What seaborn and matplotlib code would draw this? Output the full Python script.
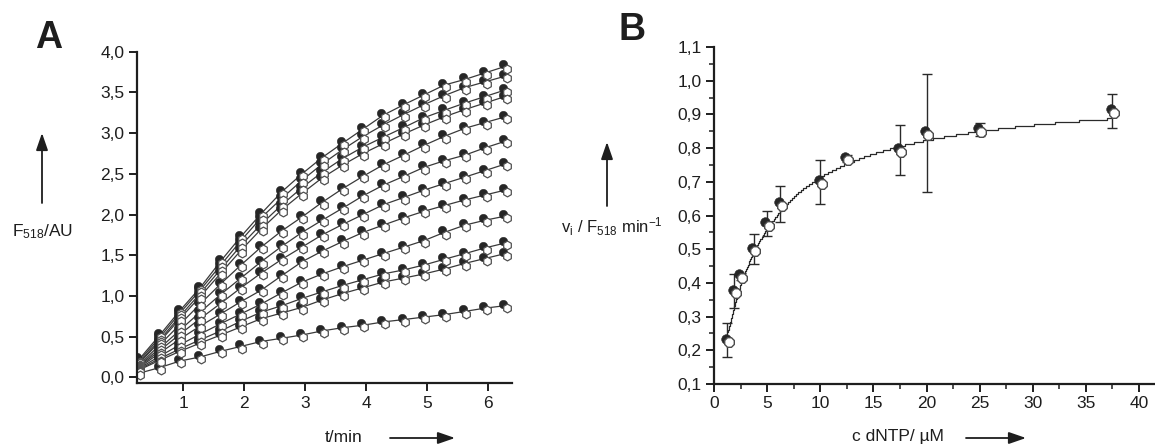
import numpy as np
import pandas as pd
import matplotlib
matplotlib.use("Agg")
import matplotlib.pyplot as plt
import matplotlib.transforms as mtransforms
from matplotlib.patches import FancyArrowPatch
from matplotlib.ticker import MultipleLocator, FuncFormatter
import seaborn as sns

# ---------------- Panel A data: fluorescence time courses ----------------
time_min = [0.28, 0.62, 0.95, 1.28, 1.62, 1.95, 2.28, 2.62, 2.95, 3.28,
            3.62, 3.95, 4.28, 4.62, 4.95, 5.28, 5.62, 5.95, 6.28]
curve_01 = [0.22, 0.52, 0.82, 1.10, 1.43, 1.73, 2.01, 2.28, 2.50, 2.70, 2.88, 3.05, 3.22, 3.35, 3.47, 3.59, 3.66, 3.74, 3.82]
curve_02 = [0.20, 0.49, 0.79, 1.07, 1.38, 1.68, 1.96, 2.20, 2.42, 2.62, 2.80, 2.96, 3.10, 3.23, 3.35, 3.46, 3.56, 3.63, 3.70]
curve_03 = [0.18, 0.46, 0.75, 1.03, 1.33, 1.62, 1.88, 2.12, 2.33, 2.52, 2.69, 2.83, 2.95, 3.07, 3.19, 3.28, 3.37, 3.45, 3.53]
curve_04 = [0.17, 0.44, 0.72, 0.99, 1.28, 1.56, 1.82, 2.06, 2.26, 2.45, 2.61, 2.75, 2.87, 2.99, 3.10, 3.20, 3.29, 3.37, 3.45]
curve_05 = [0.15, 0.40, 0.65, 0.90, 1.15, 1.38, 1.60, 1.80, 1.97, 2.15, 2.32, 2.47, 2.61, 2.73, 2.85, 2.96, 3.06, 3.13, 3.20]
curve_06 = [0.14, 0.36, 0.58, 0.80, 1.02, 1.22, 1.42, 1.61, 1.78, 1.93, 2.08, 2.23, 2.36, 2.47, 2.58, 2.66, 2.73, 2.82, 2.90]
curve_07 = [0.13, 0.33, 0.53, 0.72, 0.91, 1.10, 1.28, 1.45, 1.60, 1.75, 1.88, 2.00, 2.12, 2.21, 2.30, 2.38, 2.46, 2.54, 2.62]
curve_08 = [0.12, 0.30, 0.47, 0.63, 0.78, 0.93, 1.07, 1.25, 1.42, 1.55, 1.67, 1.78, 1.87, 1.96, 2.04, 2.11, 2.18, 2.24, 2.30]
curve_09 = [0.11, 0.26, 0.40, 0.53, 0.66, 0.78, 0.90, 1.04, 1.17, 1.27, 1.36, 1.44, 1.52, 1.60, 1.68, 1.78, 1.87, 1.93, 1.98]
curve_10 = [0.10, 0.23, 0.35, 0.46, 0.57, 0.69, 0.80, 0.88, 0.97, 1.05, 1.13, 1.20, 1.27, 1.32, 1.38, 1.45, 1.52, 1.59, 1.65]
curve_11 = [0.09, 0.21, 0.32, 0.42, 0.52, 0.62, 0.72, 0.79, 0.86, 0.95, 1.03, 1.10, 1.17, 1.22, 1.27, 1.33, 1.40, 1.46, 1.52]
curve_12 = [0.05, 0.12, 0.20, 0.25, 0.32, 0.38, 0.44, 0.48, 0.52, 0.57, 0.61, 0.64, 0.68, 0.71, 0.74, 0.77, 0.81, 0.85, 0.88]
curves = [curve_01, curve_02, curve_03, curve_04, curve_05, curve_06,
          curve_07, curve_08, curve_09, curve_10, curve_11, curve_12]
yticks_A = [0.0, 0.5, 1.0, 1.5, 2.0, 2.5, 3.0, 3.5, 4.0]
xticks_A = [1, 2, 3, 4, 5, 6]

# ---------------- Panel B data: initial rates vs dNTP ----------------
conc_uM = [1.25, 1.9, 2.5, 3.75, 5.0, 6.25, 10.0, 12.5, 17.5, 20.0, 25.0, 37.5]
rate = [0.23, 0.375, 0.42, 0.50, 0.575, 0.635, 0.70, 0.77, 0.795, 0.845, 0.855, 0.91]
rate_err = [0.05, 0.05, 0.01, 0.045, 0.037, 0.053, 0.065, 0.01, 0.075, 0.175, 0.02, 0.05]
vmax_fit = 0.98   # Michaelis-Menten fit parameters
km_fit = 3.7
xticks_B = [0, 5, 10, 15, 20, 25, 30, 35, 40]
yticks_B = [0.1, 0.2, 0.3, 0.4, 0.5, 0.6, 0.7, 0.8, 0.9, 1.0, 1.1]

# ---------------- style ----------------
sns.set_theme(style="ticks")
plt.rcParams['font.family'] = ['Liberation Sans', 'DejaVu Sans']
plt.rcParams['mathtext.fontset'] = 'custom'
plt.rcParams['mathtext.rm'] = 'Liberation Sans'
plt.rcParams['mathtext.it'] = 'Liberation Sans'
plt.rcParams['mathtext.default'] = 'regular'

INK = '#1e1e1e'
W, H = 1155, 447
fig = plt.figure(figsize=(W / 100, H / 100), dpi=100)
fig.patch.set_facecolor('white')

def px(x, y):
    return (x / W, 1 - y / H)

comma = FuncFormatter(lambda v, p: f"{v:.1f}".replace('.', ','))

def style_axes(ax):
    for s in ['top', 'right']:
        ax.spines[s].set_visible(False)
    for s in ['left', 'bottom']:
        ax.spines[s].set_linewidth(1.6)
        ax.spines[s].set_color(INK)
        ax.spines[s].set_zorder(5)
    ax.tick_params(which='major', direction='out', length=6, width=1.4,
                   colors=INK, labelsize=12.5, pad=3)
    ax.tick_params(which='minor', direction='out', length=3.5, width=1.1, colors=INK)
    ax.set_facecolor('white')
    ax.grid(False)

# ---------------- Panel A ----------------
axA = fig.add_axes([137 / W, 1 - 383 / H, (512 - 137) / W, (383 - 51.7) / H])
dfA = pd.DataFrame({
    't': np.tile(time_min, len(curves)),
    'F': np.concatenate(curves),
    'curve': np.repeat(np.arange(len(curves)), len(time_min)),
})
sns.lineplot(data=dfA, x='t', y='F', units='curve', estimator=None,
             color='#3a3a3a', lw=0.9, ax=axA, legend=False, zorder=2)
off_fill = mtransforms.offset_copy(axA.transData, fig=fig, x=-1.4, y=1.4, units='points')
off_open = mtransforms.offset_copy(axA.transData, fig=fig, x=1.0, y=-1.6, units='points')
sns.scatterplot(data=dfA, x='t', y='F', ax=axA, marker='o', s=36,
                color='#262626', edgecolor='#262626', linewidth=0.4,
                transform=off_fill, zorder=3, legend=False)
sns.scatterplot(data=dfA, x='t', y='F', ax=axA, marker='h', s=40,
                color='white', edgecolor='#505050', linewidth=0.9,
                transform=off_open, zorder=4, legend=False)
axA.set_xlim(0.246, 6.39)
axA.set_ylim(-0.07, 4.0)
axA.set_xticks(xticks_A)
axA.set_xticklabels([str(v) for v in xticks_A])
axA.set_yticks(yticks_A)
axA.yaxis.set_major_formatter(comma)
axA.set_xlabel('')
axA.set_ylabel('')
style_axes(axA)

# ---------------- Panel B ----------------
axB = fig.add_axes([714 / W, 1 - 384 / H, (1155 - 714) / W, (384 - 47) / H])
# fitted Michaelis-Menten curve, drawn as fine stairs (equal rate steps)
v_lo = vmax_fit * 1.3 / (km_fit + 1.3)
v_hi = vmax_fit * 37.5 / (km_fit + 37.5)
v_levels = np.arange(v_lo, v_hi, 0.006)
s_levels = km_fit * v_levels / (vmax_fit - v_levels)
dfFit = pd.DataFrame({'S': np.append(s_levels, 37.5), 'v': np.append(v_levels, v_hi)})
sns.lineplot(data=dfFit, x='S', y='v', ax=axB, color='#2a2a2a', lw=0.9,
             drawstyle='steps-post', legend=False, zorder=2, sort=False)
axB.errorbar(conc_uM, rate, yerr=rate_err, fmt='none', ecolor='#2a2a2a',
             elinewidth=1.0, capsize=3.5, capthick=1.0, zorder=2)
dfB = pd.DataFrame({'c': conc_uM, 'v': rate})
offB_fill = mtransforms.offset_copy(axB.transData, fig=fig, x=-1.2, y=1.2, units='points')
offB_open = mtransforms.offset_copy(axB.transData, fig=fig, x=1.0, y=-1.5, units='points')
sns.scatterplot(data=dfB, x='c', y='v', ax=axB, marker='o', s=48,
                color='#262626', edgecolor='#262626', linewidth=0.4,
                transform=offB_fill, zorder=3, legend=False)
sns.scatterplot(data=dfB, x='c', y='v', ax=axB, marker='8', s=56,
                color='white', edgecolor='#4a4a4a', linewidth=1.0,
                transform=offB_open, zorder=4, legend=False)
axB.set_xlim(0, 41.5)
axB.set_ylim(0.1, 1.1)
axB.set_xticks(xticks_B)
axB.set_xticklabels([str(v) for v in xticks_B])
axB.set_yticks(yticks_B)
axB.yaxis.set_major_formatter(comma)
axB.xaxis.set_minor_locator(MultipleLocator(2.5))
axB.yaxis.set_minor_locator(MultipleLocator(0.05))
axB.set_xlabel('')
axB.set_ylabel('')
style_axes(axB)

# ---------------- labels & arrows ----------------
def arrow(p0, p1):
    fig.add_artist(FancyArrowPatch(px(*p0), px(*p1), transform=fig.transFigure,
                                   arrowstyle='-|>,head_length=1.3,head_width=0.45',
                                   mutation_scale=8, color=INK, lw=1.3,
                                   shrinkA=0, shrinkB=0))

fig.text(*px(49, 38), 'A', fontsize=27, fontweight='heavy', color=INK,
         ha='center', va='center')
fig.text(*px(632, 30), 'B', fontsize=27, fontweight='heavy', color=INK,
         ha='center', va='center')

# Panel A y label
arrow((42, 203), (42, 133))
fig.text(*px(43, 232), 'F$_{518}$/AU', fontsize=12.5, color=INK, ha='center', va='center')
# Panel A x label
fig.text(*px(344, 437), 't/min', fontsize=12.5, color=INK, ha='center', va='center')
arrow((390, 438), (455, 438))

# Panel B y label
arrow((607, 206), (607, 142))
fig.text(*px(612, 227), 'v$_i$ / F$_{518}$ min$^{-1}$', fontsize=12, color=INK,
         ha='center', va='center')
# Panel B x label
fig.text(*px(898, 437), 'c dNTP/ µM', fontsize=12.5, color=INK, ha='center', va='center')
arrow((966, 438), (1026, 438))

fig.savefig('out.png', dpi=100, facecolor='white')
